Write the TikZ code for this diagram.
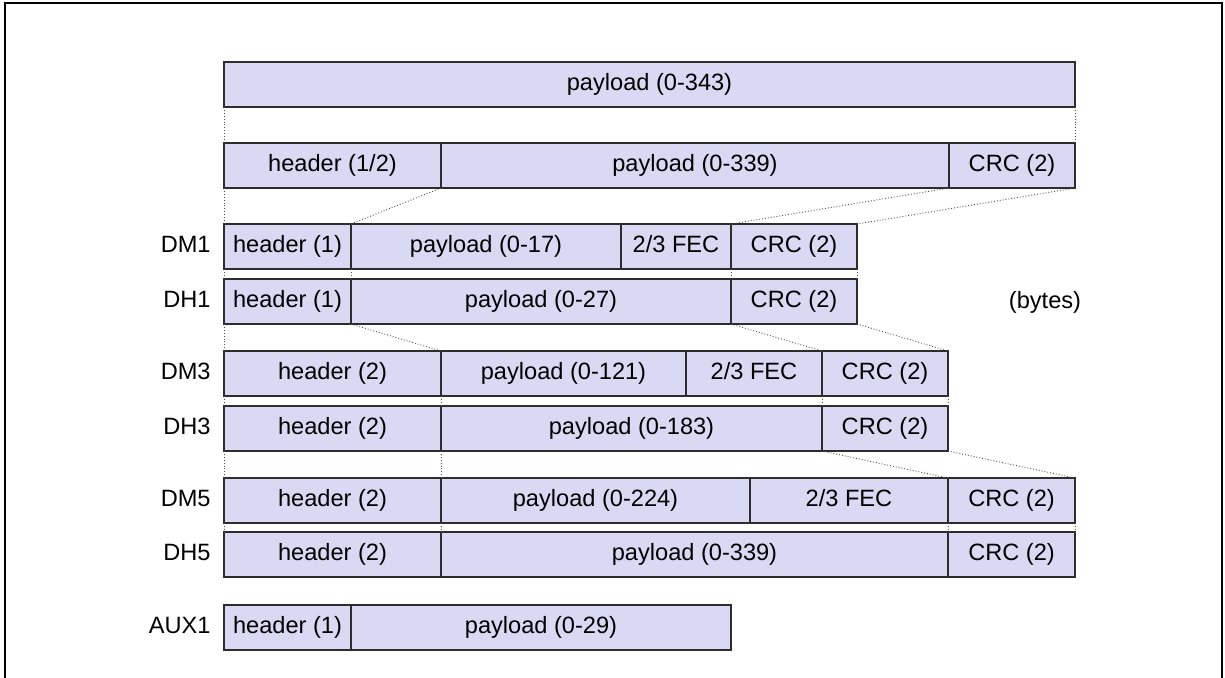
\documentclass[tikz,border=0pt]{standalone}
\usepackage{fontspec}
\setmainfont{Liberation Sans}
\usetikzlibrary{positioning}
\definecolor{cellfill}{RGB}{217,217,243}
\definecolor{cellline}{RGB}{45,45,45}

\begin{document}
\begin{tikzpicture}[
                            x=0.5pt, y=-0.5pt,
                            node distance=0pt,
                            cell/.style={draw=cellline, fill=cellfill, line width=0.6pt,
                                         minimum height=22.5pt, inner sep=0pt, outer sep=0pt,
                                         text height=8.6pt, text depth=2.6pt,
                                         font=\fontsize{11.8}{13}\selectfont},
                            rowlabel/.style={font=\fontsize{11.8}{13}\selectfont, inner sep=0pt,
                                             text height=8.6pt, text depth=2.6pt},
                            link/.style={densely dotted, draw=black!70, line width=0.45pt}
                            ]
                            \useasboundingbox (0,0) rectangle (1225,677);
                            \draw[line width=1pt] (5,720) -- (5,3) -- (1222,3) -- (1222,720);

                            \node[cell, anchor=north west, minimum width=425.5pt]   (r0p)   at (224,62)  {payload (0-343)};

                            \node[cell, anchor=north west, minimum width=108.5pt]   (r1h)   at (224,143) {header (1/2)};
                            \node[cell, right=of r1h, minimum width=254pt]          (r1p)   {payload (0-339)};
                            \node[cell, right=of r1p, minimum width=63pt]           (r1c)   {CRC (2)};

                            \node[cell, anchor=north west, minimum width=63.5pt]    (dm1h)  at (224,224) {header (1)};
                            \node[cell, right=of dm1h, minimum width=135pt]         (dm1p)  {payload (0-17)};
                            \node[cell, right=of dm1p, minimum width=55pt]          (dm1f)  {2/3 FEC};
                            \node[cell, right=of dm1f, minimum width=63pt]          (dm1c)  {CRC (2)};

                            \node[cell, anchor=north west, minimum width=63.5pt]    (dh1h)  at (224,279) {header (1)};
                            \node[cell, right=of dh1h, minimum width=190pt]         (dh1p)  {payload (0-27)};
                            \node[cell, right=of dh1p, minimum width=63pt]          (dh1c)  {CRC (2)};

                            \node[cell, anchor=north west, minimum width=108.5pt]   (dm3h)  at (224,351) {header (2)};
                            \node[cell, right=of dm3h, minimum width=122.5pt]       (dm3p)  {payload (0-121)};
                            \node[cell, right=of dm3p, minimum width=68pt]          (dm3f)  {2/3 FEC};
                            \node[cell, right=of dm3f, minimum width=63pt]          (dm3c)  {CRC (2)};

                            \node[cell, anchor=north west, minimum width=108.5pt]   (dh3h)  at (224,406) {header (2)};
                            \node[cell, right=of dh3h, minimum width=190.5pt]       (dh3p)  {payload (0-183)};
                            \node[cell, right=of dh3p, minimum width=63pt]          (dh3c)  {CRC (2)};

                            \node[cell, anchor=north west, minimum width=108.5pt]   (dm5h)  at (224,478) {header (2)};
                            \node[cell, right=of dm5h, minimum width=154.5pt]       (dm5p)  {payload (0-224)};
                            \node[cell, right=of dm5p, minimum width=99pt]          (dm5f)  {2/3 FEC};
                            \node[cell, right=of dm5f, minimum width=63.5pt]        (dm5c)  {CRC (2)};

                            \node[cell, anchor=north west, minimum width=108.5pt]   (dh5h)  at (224,532) {header (2)};
                            \node[cell, right=of dh5h, minimum width=253.5pt]       (dh5p)  {payload (0-339)};
                            \node[cell, right=of dh5p, minimum width=63.5pt]        (dh5c)  {CRC (2)};

                            \node[cell, anchor=north west, minimum width=63.5pt]    (aux1h) at (224,605) {header (1)};
                            \node[cell, right=of aux1h, minimum width=190pt]        (aux1p) {payload (0-29)};

                            \node[rowlabel, left=6.5pt of dm1h]     (ldm1)  {DM1};
                            \node[rowlabel, left=6.5pt of dh1h]     (ldh1)  {DH1};
                            \node[rowlabel, left=6.5pt of dm3h]     (ldm3)  {DM3};
                            \node[rowlabel, left=6.5pt of dh3h]     (ldh3)  {DH3};
                            \node[rowlabel, left=6.5pt of dm5h]     (ldm5)  {DM5};
                            \node[rowlabel, left=6.5pt of dh5h]     (ldh5)  {DH5};
                            \node[rowlabel, left=6.5pt of aux1h]    (laux1) {AUX1};
                            \node[rowlabel]                         (unit)  at (1045,302) {(bytes)};

                            \draw[link] (r0p.south west)  -- (r1h.north west);
                            \draw[link] (r0p.south east)  -- (r1c.north east);

                            \draw[link] (r1h.south west)  -- (dm1h.north west);
                            \draw[link] (r1h.south east)  -- (dm1h.north east);
                            \draw[link] (r1p.south east)  -- (dm1f.north east);
                            \draw[link] (r1c.south east)  -- (dm1c.north east);

                            \draw[link] (dm1h.south west) -- (dh1h.north west);
                            \draw[link] (dm1h.south east) -- (dh1h.north east);
                            \draw[link] (dm1f.south east) -- (dh1p.north east);
                            \draw[link] (dm1c.south east) -- (dh1c.north east);

                            \draw[link] (dh1h.south west) -- (dm3h.north west);
                            \draw[link] (dh1h.south east) -- (dm3h.north east);
                            \draw[link] (dh1p.south east) -- (dm3f.north east);
                            \draw[link] (dh1c.south east) -- (dm3c.north east);

                            \draw[link] (dm3h.south west) -- (dh3h.north west);
                            \draw[link] (dm3h.south east) -- (dh3h.north east);
                            \draw[link] (dm3f.south east) -- (dh3p.north east);
                            \draw[link] (dm3c.south east) -- (dh3c.north east);

                            \draw[link] (dh3h.south west) -- (dm5h.north west);
                            \draw[link] (dh3h.south east) -- (dm5h.north east);
                            \draw[link] (dh3p.south east) -- (dm5f.north east);
                            \draw[link] (dh3c.south east) -- (dm5c.north east);

                            \draw[link] (dm5h.south west) -- (dh5h.north west);
                            \draw[link] (dm5h.south east) -- (dh5h.north east);
                            \draw[link] (dm5f.south east) -- (dh5p.north east);
                            \draw[link] (dm5c.south east) -- (dh5c.north east);
                        \end{tikzpicture}
\end{document}
